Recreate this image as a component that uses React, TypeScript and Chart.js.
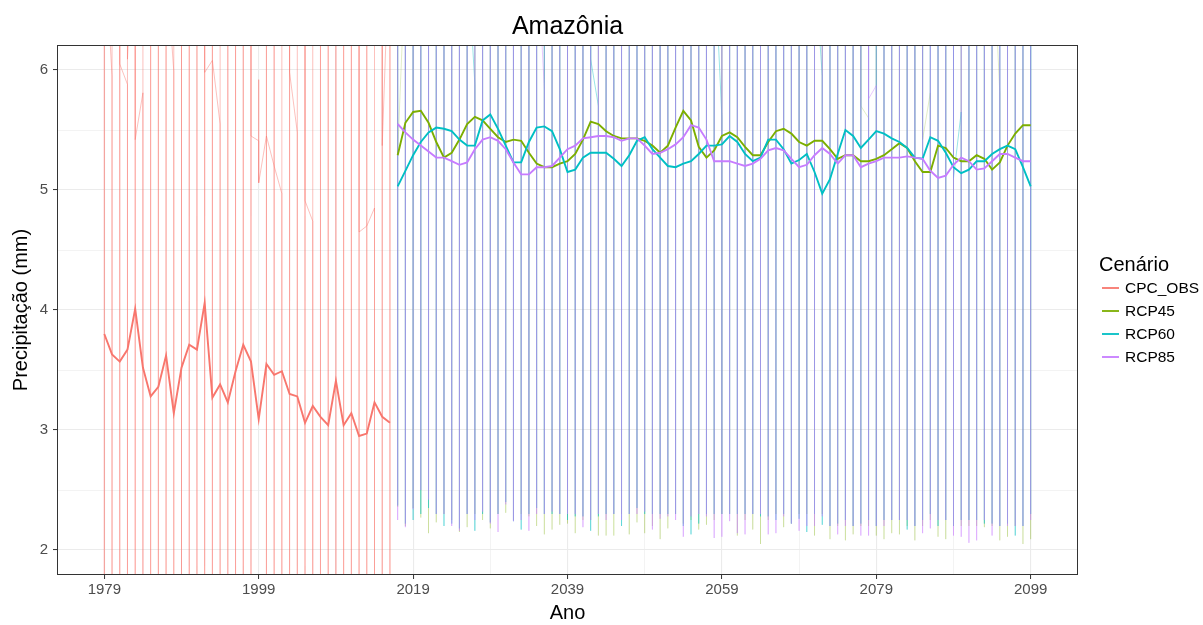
import React, { useEffect, useRef } from 'react';
import { Chart, registerables } from 'chart.js';

Chart.register(...registerables);

const FONT = "'Liberation Sans', Arial, Helvetica, sans-serif";

// ---------- labels & ticks ----------
const chartTitle = 'Amazônia';
const xTitle = 'Ano';
const yTitle = 'Precipitação (mm)';
const legendTitle = 'Cenário';
const scenarios = ['CPC_OBS', 'RCP45', 'RCP60', 'RCP85'];
const scenarioColors = ['#F8766D', '#7CAE00', '#00BFC4', '#C77CFF'];
const thinColors = [
  'rgba(248,118,109,0.45)',
  'rgba(124,174,0,0.22)',
  'rgba(0,191,196,0.4)',
  'rgba(199,124,255,0.42)',
];
const xMajorTicks = [1979, 1999, 2019, 2039, 2059, 2079, 2099];
const xMinorTicks = [1989, 2009, 2029, 2049, 2069, 2089];
const yMajorTicks = [2, 3, 4, 5, 6];
const yMinorTicks = [2.5, 3.5, 4.5, 5.5];

// ---------- data ----------
const cpcStartYear = 1979; // 1979..2016
const rcpStartYear = 2017; // 2017..2099

// smoothed (thick) lines
const cpcSmooth = [3.80, 3.63, 3.57, 3.67, 4.01, 3.52, 3.28, 3.36, 3.62, 3.14, 3.52, 3.71, 3.67, 4.06, 3.27, 3.38, 3.23, 3.49, 3.71, 3.57, 3.09, 3.55, 3.46, 3.49, 3.30, 3.28, 3.06, 3.20, 3.11, 3.04, 3.41, 3.04, 3.14, 2.95, 2.97, 3.23, 3.11, 3.06];
const rcp45Smooth = [5.29, 5.56, 5.65, 5.66, 5.56, 5.40, 5.27, 5.31, 5.42, 5.55, 5.61, 5.58, 5.51, 5.44, 5.40, 5.42, 5.41, 5.31, 5.22, 5.19, 5.19, 5.22, 5.24, 5.30, 5.42, 5.57, 5.55, 5.49, 5.45, 5.43, 5.43, 5.43, 5.41, 5.37, 5.31, 5.37, 5.52, 5.66, 5.58, 5.36, 5.27, 5.33, 5.45, 5.48, 5.44, 5.36, 5.29, 5.29, 5.40, 5.49, 5.51, 5.47, 5.40, 5.37, 5.41, 5.41, 5.34, 5.26, 5.29, 5.29, 5.24, 5.24, 5.26, 5.29, 5.34, 5.39, 5.35, 5.24, 5.15, 5.15, 5.37, 5.35, 5.27, 5.24, 5.24, 5.29, 5.26, 5.17, 5.23, 5.37, 5.47, 5.54, 5.54];
const rcp60Smooth = [5.03, 5.16, 5.29, 5.40, 5.48, 5.52, 5.51, 5.49, 5.42, 5.37, 5.37, 5.58, 5.63, 5.51, 5.37, 5.23, 5.23, 5.40, 5.52, 5.53, 5.49, 5.34, 5.15, 5.17, 5.27, 5.31, 5.31, 5.31, 5.26, 5.20, 5.29, 5.41, 5.44, 5.34, 5.27, 5.20, 5.19, 5.22, 5.24, 5.30, 5.37, 5.37, 5.38, 5.45, 5.40, 5.30, 5.24, 5.27, 5.42, 5.42, 5.34, 5.22, 5.25, 5.30, 5.15, 4.97, 5.09, 5.30, 5.50, 5.45, 5.35, 5.42, 5.49, 5.47, 5.43, 5.40, 5.35, 5.27, 5.26, 5.44, 5.41, 5.31, 5.19, 5.14, 5.17, 5.24, 5.24, 5.30, 5.34, 5.37, 5.34, 5.19, 5.03];
const rcp85Smooth = [5.55, 5.48, 5.42, 5.37, 5.32, 5.27, 5.27, 5.24, 5.21, 5.23, 5.34, 5.42, 5.44, 5.41, 5.34, 5.23, 5.13, 5.13, 5.19, 5.19, 5.20, 5.27, 5.34, 5.37, 5.43, 5.44, 5.45, 5.45, 5.44, 5.41, 5.43, 5.43, 5.37, 5.30, 5.31, 5.34, 5.38, 5.44, 5.54, 5.52, 5.42, 5.24, 5.24, 5.24, 5.22, 5.20, 5.22, 5.26, 5.33, 5.35, 5.33, 5.26, 5.19, 5.21, 5.29, 5.35, 5.30, 5.22, 5.29, 5.29, 5.19, 5.22, 5.24, 5.27, 5.27, 5.27, 5.28, 5.27, 5.26, 5.16, 5.10, 5.12, 5.21, 5.27, 5.24, 5.17, 5.18, 5.24, 5.30, 5.30, 5.27, 5.24, 5.24];

// monthly (thin) lines, summarised per year: January, wettest month, driest month, December
const cpcJan = [7.4, 5.95, 7.1, 5.88, 7.6, 5.81, 7.2, 6.9, 7.3, 5.99, 7.0, 7.2, 6.9, 7.4, 6.08, 5.55, 7.0, 6.8, 7.1, 6.6, 5.41, 5.45, 5.20, 4.97, 6.9, 5.48, 7.0, 4.74, 7.2, 6.8, 7.0, 7.1, 6.9, 7.3, 4.70, 4.85, 6.9, 7.2];
const cpcWet = [9.1, 8.7, 9.4, 8.9, 9.8, 8.6, 9.0, 9.3, 8.8, 9.2, 8.9, 9.5, 8.7, 9.6, 9.0, 8.8, 9.1, 9.3, 8.6, 9.0, 5.92, 8.9, 8.7, 9.2, 8.8, 9.0, 8.6, 9.1, 8.9, 8.7, 9.3, 8.8, 9.0, 8.6, 8.9, 8.7, 9.2, 9.0];
const cpcDry = [1.2, 1.4, 1.1, 1.3, 1.5, 1.2, 1.0, 1.3, 1.1, 0.9, 1.2, 1.4, 1.3, 1.6, 1.0, 1.2, 1.1, 1.3, 1.0, 0.8, 5.06, 1.1, 1.0, 1.2, 0.9, 1.0, 0.7, 1.1, 1.0, 0.9, 1.2, 0.8, 1.0, 0.9, 1.1, 1.0, 0.8, 1.0];
const cpcDec = [7.1, 6.9, 6.05, 6.09, 5.42, 7.0, 6.8, 7.2, 6.9, 7.1, 6.7, 7.0, 6.8, 5.98, 6.08, 7.0, 6.9, 7.2, 6.7, 5.45, 5.06, 5.45, 5.20, 6.8, 5.98, 7.1, 4.91, 7.0, 6.8, 7.2, 6.9, 7.0, 7.1, 4.65, 4.70, 6.9, 5.37, 7.0];

const rcp45Jan = [7.2, 6.9, 7.5, 7.1, 6.8, 7.3, 7.0, 7.4, 6.9, 7.2, 7.1, 6.8, 7.3, 7.0, 7.5, 6.9, 7.2, 7.1, 6.8, 7.4, 7.0, 7.3, 6.9, 7.2, 7.1, 7.5, 6.8, 7.0, 7.3, 6.9, 7.2, 7.1, 6.8, 7.4, 7.0, 7.3, 6.9, 7.2, 7.5, 7.0, 6.8, 7.1, 7.3, 6.9, 7.2, 7.0, 7.4, 6.8, 7.1, 7.3, 6.9, 7.2, 7.0, 7.5, 6.8, 7.1, 7.3, 6.9, 7.2, 7.0, 7.4, 5.60, 7.1, 7.3, 6.9, 7.2, 7.0, 7.5, 6.8, 5.81, 7.1, 7.3, 6.9, 7.2, 7.0, 7.4, 6.8, 7.1, 5.81, 7.3, 6.9, 7.2, 7.0];
const rcp45Wet = [9.2, 8.8, 9.5, 9.0, 8.7, 9.3, 9.1, 8.9, 9.6, 9.0, 8.8, 9.4, 9.2, 8.9, 9.1, 9.5, 8.7, 9.0, 9.3, 8.9, 9.2, 8.8, 9.4, 9.1, 8.9, 9.6, 9.0, 8.7, 9.3, 9.1, 8.9, 9.2, 9.5, 8.8, 9.0, 9.3, 9.1, 8.7, 9.4, 9.0, 9.2, 8.9, 9.1, 9.5, 8.8, 9.0, 9.3, 8.9, 9.2, 9.6, 8.7, 9.1, 9.4, 9.0, 8.8, 9.2, 9.5, 8.9, 9.1, 9.3, 9.0, 8.8, 9.4, 9.1, 8.9, 9.2, 9.6, 9.0, 8.7, 9.3, 9.1, 8.9, 9.2, 9.5, 8.8, 9.0, 9.3, 9.1, 8.9, 9.4, 9.0, 9.2, 8.8];
const rcp45Dry = [2.36, 2.20, 2.35, 2.27, 2.14, 2.23, 2.30, 2.25, 2.15, 2.19, 2.30, 2.25, 2.18, 2.30, 2.31, 2.25, 2.30, 2.28, 2.20, 2.13, 2.17, 2.21, 2.22, 2.14, 2.25, 2.25, 2.12, 2.12, 2.12, 2.30, 2.13, 2.23, 2.14, 2.20, 2.09, 2.18, 2.30, 2.22, 2.25, 2.17, 2.21, 2.25, 2.30, 2.30, 2.12, 2.25, 2.17, 2.05, 2.25, 2.30, 2.19, 2.22, 2.30, 2.30, 2.12, 2.30, 2.09, 2.20, 2.08, 2.13, 2.20, 2.20, 2.12, 2.09, 2.14, 2.13, 2.20, 2.08, 2.20, 2.25, 2.11, 2.09, 2.20, 2.20, 2.20, 2.20, 2.19, 2.20, 2.08, 2.11, 2.20, 2.05, 2.09];
const rcp45Dec = [5.30, 7.0, 6.8, 7.2, 6.9, 7.1, 6.7, 7.0, 7.3, 6.8, 7.1, 6.9, 7.2, 6.8, 7.0, 7.3, 6.9, 7.1, 6.7, 7.0, 7.2, 6.8, 7.1, 6.9, 7.3, 7.0, 6.8, 7.2, 6.9, 7.1, 6.7, 7.0, 7.3, 6.9, 7.1, 6.8, 7.2, 7.0, 6.9, 7.3, 7.0, 6.8, 7.1, 6.9, 7.2, 7.0, 6.8, 7.3, 6.9, 7.1, 7.0, 7.2, 6.8, 7.1, 6.9, 7.3, 7.0, 6.8, 7.2, 6.9, 5.70, 7.1, 6.9, 7.2, 7.0, 6.8, 7.1, 6.9, 5.42, 7.0, 7.2, 6.8, 7.1, 6.9, 7.3, 7.0, 6.8, 7.2, 6.9, 7.1, 7.0, 6.8, 7.2];

const rcp60Jan = [7.0, 7.3, 6.9, 7.2, 7.1, 6.8, 7.4, 7.0, 7.2, 6.9, 5.88, 7.1, 7.3, 6.8, 7.0, 7.2, 6.9, 7.4, 7.1, 6.8, 7.2, 7.0, 6.9, 7.3, 7.1, 6.8, 5.70, 7.2, 7.0, 6.9, 7.3, 7.1, 6.8, 7.0, 7.2, 6.9, 7.4, 7.0, 7.1, 6.8, 7.2, 7.0, 5.60, 7.3, 6.9, 7.1, 7.0, 7.2, 6.8, 7.1, 7.3, 6.9, 7.0, 7.2, 7.1, 5.95, 7.0, 7.3, 6.9, 7.1, 7.2, 6.8, 7.0, 7.3, 6.9, 7.1, 7.2, 7.0, 6.8, 7.1, 7.3, 6.9, 7.0, 5.65, 7.2, 7.1, 6.8, 7.0, 7.3, 6.9, 7.1, 7.0, 7.2];
const rcp60Wet = [9.0, 9.3, 8.8, 9.1, 9.4, 8.9, 9.2, 9.5, 8.8, 9.1, 9.3, 8.9, 9.0, 9.4, 9.2, 8.8, 9.1, 9.5, 9.0, 8.9, 9.3, 9.1, 8.8, 9.2, 9.4, 9.0, 8.9, 9.3, 9.1, 8.8, 9.2, 9.5, 9.0, 8.9, 9.3, 9.1, 8.8, 9.4, 9.2, 9.0, 8.9, 9.3, 9.1, 8.8, 9.2, 9.4, 9.0, 8.9, 9.3, 9.1, 8.8, 9.2, 9.5, 9.0, 8.9, 9.3, 9.1, 8.8, 9.4, 9.2, 9.0, 8.9, 9.3, 9.1, 8.8, 9.2, 9.5, 9.0, 8.9, 9.3, 9.1, 8.8, 9.4, 9.2, 9.0, 8.9, 9.3, 9.1, 8.8, 9.2, 9.4, 9.0, 8.9];
const rcp60Dry = [2.37, 2.22, 2.25, 2.30, 2.35, 2.30, 2.20, 2.22, 2.18, 2.30, 2.16, 2.30, 2.23, 2.30, 2.40, 2.24, 2.17, 2.30, 2.35, 2.30, 2.30, 2.30, 2.25, 2.28, 2.28, 2.16, 2.28, 2.30, 2.30, 2.20, 2.30, 2.35, 2.30, 2.30, 2.30, 2.30, 2.30, 2.20, 2.13, 2.22, 2.30, 2.30, 2.30, 2.30, 2.30, 2.30, 2.30, 2.28, 2.28, 2.25, 2.30, 2.22, 2.26, 2.15, 2.30, 2.21, 2.20, 2.22, 2.25, 2.20, 2.22, 2.25, 2.20, 2.25, 2.25, 2.25, 2.17, 2.20, 2.25, 2.30, 2.20, 2.25, 2.20, 2.25, 2.25, 2.25, 2.22, 2.22, 2.20, 2.22, 2.12, 2.20, 2.30];
const rcp60Dec = [6.9, 7.1, 7.0, 6.8, 7.2, 7.0, 6.9, 7.3, 7.1, 7.0, 6.8, 7.2, 7.0, 7.1, 6.9, 7.3, 7.0, 6.8, 7.2, 7.1, 6.9, 7.0, 7.3, 6.8, 7.1, 6.09, 7.0, 7.2, 6.9, 7.1, 7.0, 6.8, 7.2, 7.1, 6.9, 7.3, 7.0, 6.8, 7.1, 7.2, 6.9, 7.0, 7.1, 6.8, 7.2, 7.0, 6.9, 7.3, 7.1, 7.0, 6.8, 7.2, 7.0, 7.1, 6.9, 7.3, 7.0, 6.8, 7.2, 7.1, 6.9, 7.0, 7.3, 6.8, 7.1, 7.0, 6.9, 7.2, 7.1, 7.0, 6.8, 7.2, 5.10, 7.1, 6.9, 7.3, 7.0, 6.8, 7.2, 7.1, 6.9, 7.0, 4.50];

const rcp85Jan = [7.1, 6.9, 7.2, 7.0, 7.3, 6.8, 7.1, 7.2, 6.9, 7.0, 7.3, 7.1, 6.8, 7.0, 7.2, 6.9, 7.4, 7.0, 7.1, 5.84, 7.2, 6.9, 7.0, 7.3, 7.1, 6.8, 7.2, 7.0, 6.9, 7.3, 7.1, 7.0, 6.8, 7.2, 7.1, 6.9, 7.3, 7.0, 7.2, 6.8, 7.1, 7.0, 7.3, 6.9, 7.2, 7.0, 7.1, 6.8, 7.3, 7.0, 7.2, 6.9, 7.1, 7.0, 7.3, 6.8, 7.2, 7.0, 6.9, 7.1, 7.3, 7.0, 5.87, 7.2, 6.9, 7.1, 7.0, 7.3, 6.8, 7.2, 7.0, 6.9, 7.1, 7.3, 7.0, 6.8, 7.2, 7.1, 6.9, 7.0, 7.3, 7.1, 6.9];
const rcp85Wet = [9.1, 8.9, 9.4, 9.0, 8.8, 9.2, 9.5, 9.0, 8.9, 9.3, 9.1, 8.8, 9.2, 9.4, 9.0, 8.9, 9.3, 9.1, 8.8, 9.2, 9.5, 9.0, 8.9, 9.3, 9.1, 8.8, 9.4, 9.2, 9.0, 8.9, 9.3, 9.1, 8.8, 9.2, 9.5, 9.0, 8.9, 9.3, 9.1, 8.8, 9.4, 9.2, 9.0, 8.9, 9.3, 9.1, 8.8, 9.2, 9.5, 9.0, 8.9, 9.3, 9.1, 8.8, 9.4, 9.2, 9.0, 8.9, 9.3, 9.1, 8.8, 9.2, 9.5, 9.0, 8.9, 9.3, 9.1, 8.8, 9.4, 9.2, 9.0, 8.9, 9.3, 9.1, 8.8, 9.2, 9.5, 9.0, 8.9, 9.3, 9.1, 8.8, 9.2];
const rcp85Dry = [2.25, 2.19, 2.34, 2.50, 2.42, 2.30, 2.30, 2.20, 2.16, 2.30, 2.25, 2.32, 2.22, 2.15, 2.38, 2.24, 2.25, 2.16, 2.30, 2.30, 2.32, 2.30, 2.30, 2.30, 2.19, 2.25, 2.30, 2.25, 2.30, 2.25, 2.30, 2.30, 2.32, 2.17, 2.26, 2.28, 2.25, 2.11, 2.28, 2.30, 2.28, 2.10, 2.11, 2.24, 2.14, 2.13, 2.30, 2.30, 2.13, 2.14, 2.28, 2.22, 2.16, 2.20, 2.20, 2.28, 2.20, 2.13, 2.20, 2.20, 2.12, 2.12, 2.20, 2.20, 2.25, 2.25, 2.25, 2.20, 2.14, 2.18, 2.25, 2.25, 2.12, 2.11, 2.06, 2.08, 2.25, 2.12, 2.20, 2.20, 2.20, 2.20, 2.25];
const rcp85Dec = [7.0, 7.2, 6.8, 7.1, 6.9, 7.3, 7.0, 6.8, 7.2, 7.1, 6.9, 7.0, 7.3, 6.8, 7.1, 7.0, 6.9, 7.2, 7.1, 7.0, 6.8, 7.3, 7.0, 6.9, 7.2, 7.1, 7.0, 6.8, 7.3, 7.0, 6.9, 7.2, 7.1, 7.0, 6.8, 7.3, 7.0, 6.9, 7.2, 7.1, 7.0, 6.8, 7.3, 7.0, 6.9, 7.2, 7.1, 7.0, 6.8, 7.3, 7.0, 6.9, 7.2, 7.1, 7.0, 6.8, 7.3, 7.0, 6.9, 7.2, 7.1, 5.76, 7.0, 6.8, 7.3, 7.0, 6.9, 7.2, 7.1, 7.0, 6.8, 7.3, 7.0, 6.9, 7.2, 7.1, 7.0, 6.8, 7.3, 7.0, 6.9, 7.2, 7.1];

// ---------- builders ----------
type Pt = { x: number; y: number };

function thinPoints(start: number, jan: number[], wet: number[], dry: number[], dec: number[]): Pt[] {
  const pts: Pt[] = [];
  for (let i = 0; i < jan.length; i++) {
    const yr = start + i;
    pts.push({ x: yr, y: jan[i] }, { x: yr, y: wet[i] }, { x: yr, y: dry[i] }, { x: yr, y: dec[i] });
  }
  return pts;
}

function thickPoints(start: number, vals: number[]): Pt[] {
  return vals.map((v, i) => ({ x: start + i, y: v }));
}

const xAllTicks = [...xMajorTicks, ...xMinorTicks].sort((a, b) => a - b);
const yAllTicks = [...yMajorTicks, ...yMinorTicks].sort((a, b) => a - b);

const decorPlugin = {
  id: 'decor',
  afterDatasetsDraw(chart: any) {
    const { ctx, chartArea: a } = chart;
    ctx.save();
    ctx.strokeStyle = '#333333';
    ctx.lineWidth = 1;
    ctx.strokeRect(a.left - 0.5, a.top - 0.5, a.right - a.left + 1, a.bottom - a.top + 1);
    ctx.restore();
  },
  afterDraw(chart: any) {
    const { ctx, chartArea: a } = chart;
    ctx.save();
    // title
    ctx.fillStyle = '#000000';
    ctx.font = `25px ${FONT}`;
    ctx.textAlign = 'center';
    ctx.textBaseline = 'middle';
    ctx.fillText(chartTitle, (a.left + a.right) / 2, 27);
    // legend
    ctx.textAlign = 'left';
    ctx.font = `20px ${FONT}`;
    ctx.fillText(legendTitle, 1099, 265);
    ctx.font = `15.5px ${FONT}`;
    scenarios.forEach((name, i) => {
      const y = 288 + i * 23;
      ctx.strokeStyle = scenarioColors[i];
      ctx.lineWidth = 1.8;
      ctx.beginPath();
      ctx.moveTo(1102, y);
      ctx.lineTo(1119, y);
      ctx.stroke();
      ctx.fillStyle = '#000000';
      ctx.fillText(name, 1125, y + 1);
    });
    ctx.restore();
  },
};

export default function App() {
  const ref = useRef<HTMLCanvasElement>(null);

  useEffect(() => {
    document.body.style.margin = '0';
    const canvas = ref.current!;

    const thinSets = [
      thinPoints(cpcStartYear, cpcJan, cpcWet, cpcDry, cpcDec),
      thinPoints(rcpStartYear, rcp45Jan, rcp45Wet, rcp45Dry, rcp45Dec),
      thinPoints(rcpStartYear, rcp60Jan, rcp60Wet, rcp60Dry, rcp60Dec),
      thinPoints(rcpStartYear, rcp85Jan, rcp85Wet, rcp85Dry, rcp85Dec),
    ];
    const thickSets = [
      thickPoints(cpcStartYear, cpcSmooth),
      thickPoints(rcpStartYear, rcp45Smooth),
      thickPoints(rcpStartYear, rcp60Smooth),
      thickPoints(rcpStartYear, rcp85Smooth),
    ];

    const datasets: any[] = [];
    thinSets.forEach((d, i) => {
      datasets.push({
        label: scenarios[i] + ' mensal',
        data: d,
        borderColor: thinColors[i],
        borderWidth: 1,
        pointRadius: 0,
        fill: false,
        tension: 0,
        order: 7 - i,
      });
    });
    thickSets.forEach((d, i) => {
      datasets.push({
        label: scenarios[i],
        data: d,
        borderColor: scenarioColors[i],
        borderWidth: 1.9,
        pointRadius: 0,
        fill: false,
        tension: 0,
        order: 3 - i,
      });
    });

    const isMajorX = (v: number) => xMajorTicks.includes(v);
    const isMajorY = (v: number) => yMajorTicks.includes(v);

    const chart = new Chart(canvas, {
      type: 'line',
      data: { datasets },
      options: {
        animation: false,
        responsive: false,
        events: [],
        layout: { padding: { top: 46, right: 126, left: 0, bottom: 0 } },
        plugins: {
          legend: { display: false },
          title: { display: false },
          tooltip: { enabled: false },
        },
        elements: { point: { radius: 0 } },
        scales: {
          x: {
            type: 'linear',
            min: 1973,
            max: 2105,
            afterBuildTicks: (s: any) => {
              s.ticks = xAllTicks.map((v) => ({ value: v }));
            },
            afterFit: (s: any) => {
              s.height = 51;
            },
            ticks: {
              autoSkip: false,
              maxRotation: 0,
              minRotation: 0,
              padding: 2,
              color: '#4D4D4D',
              font: { size: 15, family: FONT },
              callback: (v: any) => (isMajorX(Number(v)) ? String(v) : ''),
            },
            grid: {
              color: '#EBEBEB',
              lineWidth: (c: any) => (c.tick && isMajorX(c.tick.value) ? 1.1 : 0.6),
              tickLength: 5,
              tickWidth: 1,
              tickColor: (c: any) => (c.tick && isMajorX(c.tick.value) ? '#333333' : 'rgba(0,0,0,0)'),
            },
            border: { display: false },
            title: {
              display: true,
              text: xTitle,
              color: '#000000',
              font: { size: 20, family: FONT },
              padding: { top: 0, bottom: 0 },
            },
          },
          y: {
            type: 'linear',
            min: 1.8,
            max: 6.2,
            afterBuildTicks: (s: any) => {
              s.ticks = yAllTicks.map((v) => ({ value: v }));
            },
            afterFit: (s: any) => {
              s.width = 58;
            },
            ticks: {
              autoSkip: false,
              padding: 5,
              color: '#4D4D4D',
              font: { size: 15, family: FONT },
              callback: (v: any) => (isMajorY(Number(v)) ? String(v) : ''),
            },
            grid: {
              color: '#EBEBEB',
              lineWidth: (c: any) => (c.tick && isMajorY(c.tick.value) ? 1.1 : 0.6),
              tickLength: 5,
              tickWidth: 1,
              tickColor: (c: any) => (c.tick && isMajorY(c.tick.value) ? '#333333' : 'rgba(0,0,0,0)'),
            },
            border: { display: false },
            title: {
              display: true,
              text: yTitle,
              color: '#000000',
              font: { size: 20, family: FONT },
              padding: { top: 9, bottom: 0 },
            },
          },
        },
      },
      plugins: [decorPlugin],
    });

    return () => chart.destroy();
  }, []);

  return (
    <div style={{ width: 1203, height: 625 }}>
      <canvas ref={ref} width={1203} height={625} style={{ display: 'block', width: 1203, height: 625 }} />
    </div>
  );
}
